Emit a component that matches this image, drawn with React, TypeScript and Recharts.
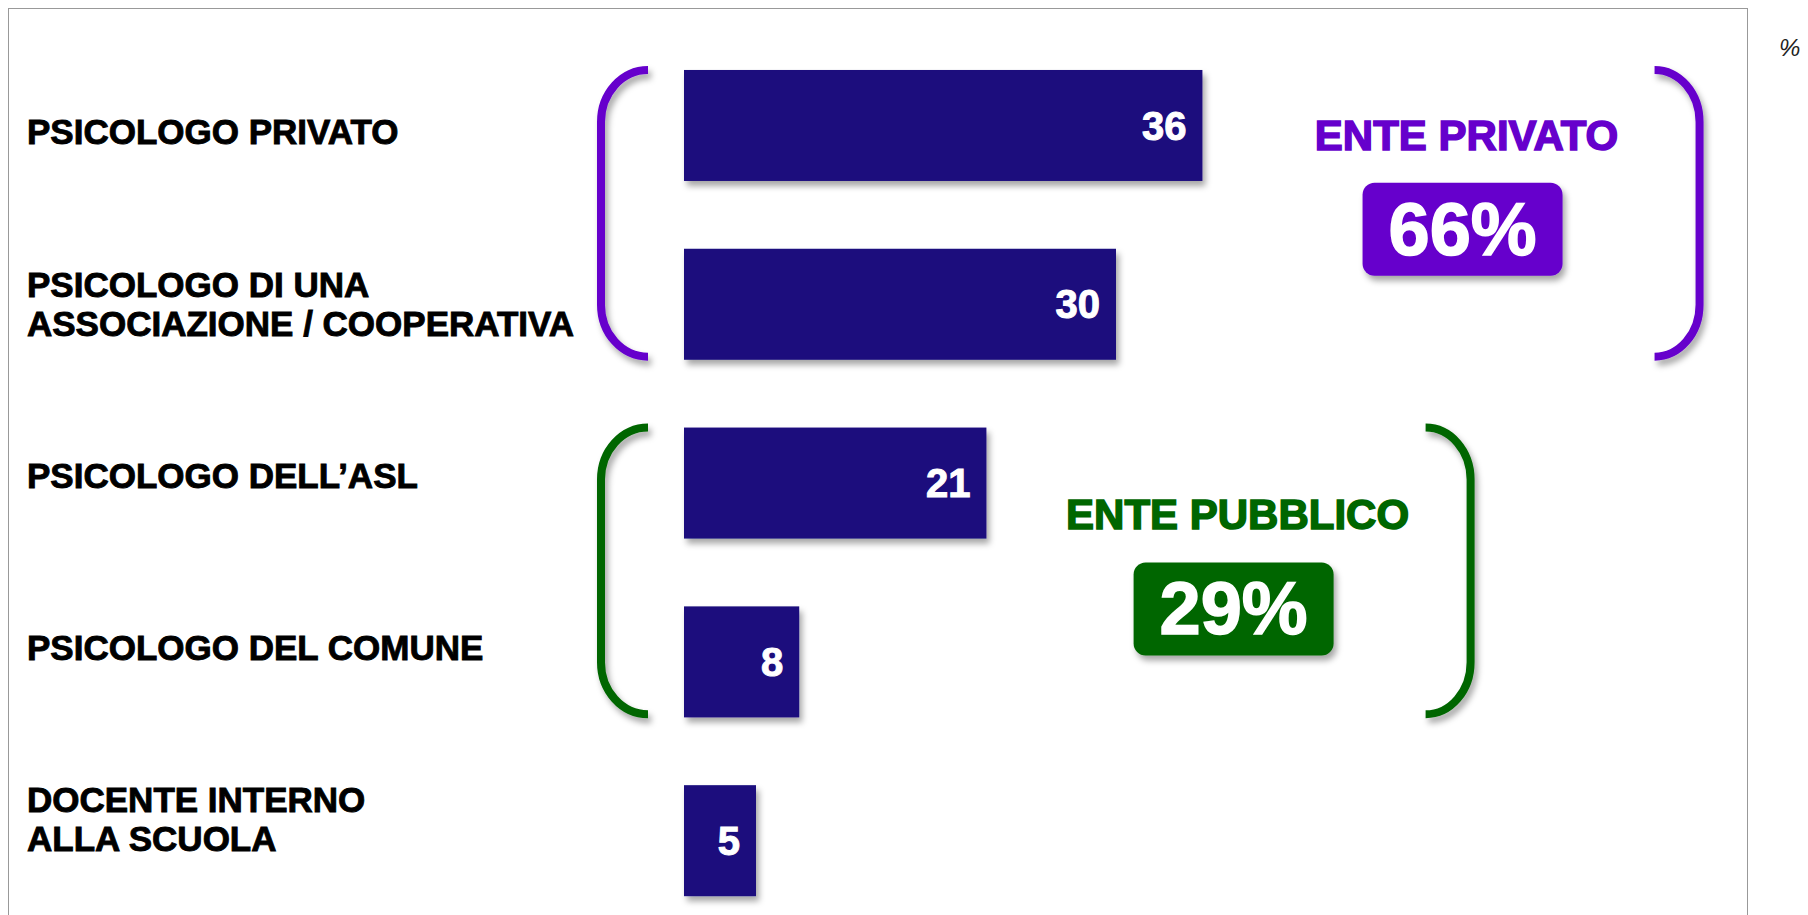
import React from 'react';
import { BarChart, Bar, XAxis, YAxis, LabelList, ReferenceArea } from 'recharts';

const categories = [
  'PSICOLOGO PRIVATO',
  'PSICOLOGO DI UNA\nASSOCIAZIONE / COOPERATIVA',
  'PSICOLOGO DELL’ASL',
  'PSICOLOGO DEL COMUNE',
  'DOCENTE INTERNO\nALLA SCUOLA',
];
const values = [36, 30, 21, 8, 5];

const groupNames = ['ENTE PRIVATO', 'ENTE PUBBLICO'];
const groupTotals = [66, 29];
const groupFirst = [0, 2];
const groupLast = [1, 3];

const unitLabel = '%';

// Stile / layout
const FONT = "'Liberation Sans', Arial, Helvetica, sans-serif";
const BAR_COLOR = '#1a0f7d';
const GROUP_COLORS = ['#6600cc', '#006600'];
const GROUP_REACH = [67.4, 51.5]; // dove finisce la parentesi destra (unità asse x)
const GROUP_SHIFT = [-11, 11];
const LABEL_X = 18;
const LABEL_DRIFT = -6.9; // le etichette sono un po' più fitte delle barre

const data = categories.map((name, i) => ({ name, value: values[i] }));

const CategoryTick = (props: any) => {
  const { y, payload, index } = props;
  const lines = String(payload.value).split('\n');
  const lh = 39;
  const drift = LABEL_DRIFT * ((index ?? 1) - 1);
  return (
    <text
      x={LABEL_X}
      y={y + drift}
      textAnchor="start"
      fontSize={35}
      fontWeight={700}
      fontFamily={FONT}
      fill="#000"
      stroke="#000"
      strokeWidth={0.9}
    >
      {lines.map((l, k) => (
        <tspan key={k} x={LABEL_X} dy={k === 0 ? -((lines.length - 1) * lh) / 2 + 12 : lh}>
          {l}
        </tspan>
      ))}
    </text>
  );
};

const renderBar = (p: any) => (
  <rect x={p.x} y={p.y} width={p.width} height={p.height} fill={BAR_COLOR} filter="url(#dropShadow)" />
);

const renderGroup = (i: number) => (p: any) => {
  const { x, y, width, height } = p;
  if (x == null || y == null) return null;
  const color = GROUP_COLORS[i];
  const inset = height * 0.095;
  const top = y + inset;
  const bottom = y + height - inset - 3;
  const ry = 52;
  const lIn = x - 36;
  const lOut = x - 83;
  const rIn = x + width;
  const rOut = x + width + 45;
  const left = `M ${lIn} ${top} A ${lIn - lOut} ${ry} 0 0 0 ${lOut} ${top + ry} L ${lOut} ${bottom - ry} A ${lIn - lOut} ${ry} 0 0 0 ${lIn} ${bottom}`;
  const right = `M ${rIn} ${top} A ${rOut - rIn} ${ry} 0 0 1 ${rOut} ${top + ry} L ${rOut} ${bottom - ry} A ${rOut - rIn} ${ry} 0 0 1 ${rIn} ${bottom}`;
  const cx = rIn - 192;
  const mid = y + height / 2 + GROUP_SHIFT[i];
  return (
    <g>
      <path d={left} fill="none" stroke={color} strokeWidth={8} filter="url(#dropShadow)" />
      <path d={right} fill="none" stroke={color} strokeWidth={8} filter="url(#dropShadow)" />
      <text
        x={cx + 4}
        y={mid - 69}
        dy={15}
        textAnchor="middle"
        fontSize={42}
        fontWeight={700}
        fontFamily={FONT}
        fill={color}
        stroke={color}
        strokeWidth={1.5}
      >
        {groupNames[i]}
      </text>
      <rect x={cx - 100} y={mid + 25 - 46} width={200} height={93} rx={12} fill={color} filter="url(#dropShadow)" />
      <text
        x={cx}
        y={mid + 25}
        dy={26}
        textAnchor="middle"
        fontSize={74}
        fontWeight={700}
        fontFamily={FONT}
        fill="#fff"
        stroke="#fff"
        strokeWidth={1.5}
      >
        {`${groupTotals[i]}%`}
      </text>
    </g>
  );
};

const App: React.FC = () => {
  return (
    <div style={{ position: 'relative', width: 1792, height: 907, overflow: 'hidden', fontFamily: FONT }}>
      <div
        style={{
          position: 'absolute',
          left: 0,
          top: 0,
          width: 1738,
          height: 940,
          border: '1px solid #999',
          background: '#fff',
        }}
      >
        <BarChart
          layout="vertical"
          width={1738}
          height={929}
          data={data}
          margin={{ top: 27, right: 55, left: 0, bottom: 8 }}
          barCategoryGap="19%"
        >
          <defs>
            <filter id="dropShadow" x="-20%" y="-20%" width="150%" height="160%">
              <feDropShadow dx="3" dy="5" stdDeviation="3" floodColor="#000" floodOpacity="0.35" />
            </filter>
          </defs>
          <XAxis type="number" domain={[0, 70]} hide />
          <YAxis
            type="category"
            dataKey="name"
            width={675}
            axisLine={false}
            tickLine={false}
            tick={<CategoryTick />}
            interval={0}
          />
          {groupNames.map((g, i) => (
            <ReferenceArea
              key={g}
              x1={0}
              x2={GROUP_REACH[i]}
              y1={categories[groupFirst[i]]}
              y2={categories[groupLast[i]]}
              ifOverflow="visible"
              shape={renderGroup(i)}
            />
          ))}
          <Bar dataKey="value" isAnimationActive={false} shape={renderBar}>
            <LabelList
              dataKey="value"
              position="insideRight"
              offset={16}
              fill="#fff"
              stroke="#fff"
              strokeWidth={1}
              fontSize={40}
              fontWeight={700}
              fontFamily={FONT}
            />
          </Bar>
        </BarChart>
      </div>
      <span
        style={{
          position: 'absolute',
          left: 1771,
          top: 28,
          fontSize: 24,
          fontStyle: 'italic',
          color: '#222',
          fontFamily: FONT,
          lineHeight: 1,
        }}
      >
        {unitLabel}
      </span>
    </div>
  );
};

export default App;
